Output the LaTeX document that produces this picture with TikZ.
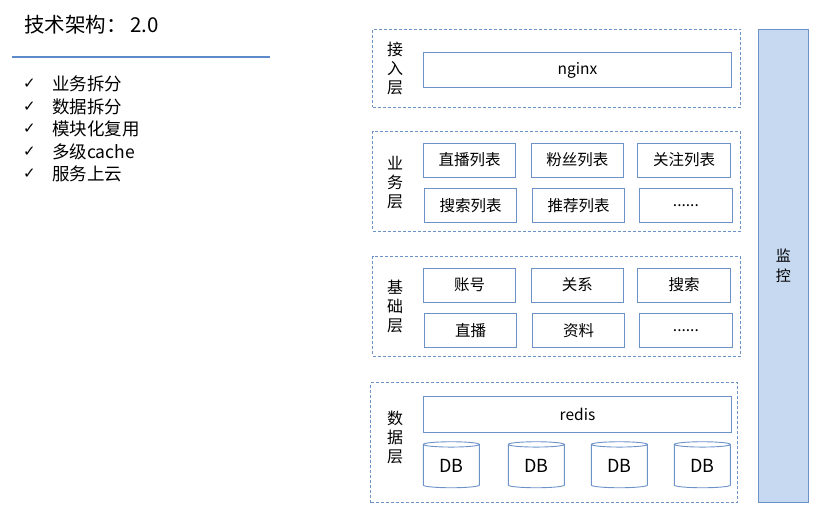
\documentclass[tikz,border=0pt]{standalone}
\usepackage{fontspec}
\setmainfont{Noto Sans CJK SC}
\newfontfamily\symfont{DejaVu Sans}
\usepackage{tikz}
\usetikzlibrary{positioning,shapes.geometric}

\definecolor{edgeblue}{RGB}{108,146,200}
\definecolor{lineblue}{RGB}{91,139,201}
\definecolor{monfill}{RGB}{198,217,240}

\tikzset{
    layer/.style={draw=edgeblue, dash pattern=on 3pt off 2pt, line width=0.9pt, minimum width=368, inner sep=0pt},
    comp/.style={draw=edgeblue, line width=0.9pt, minimum width=92.4, minimum height=34, inner sep=0pt, font=\fontsize{15.5}{18}\selectfont},
    wide/.style={comp, minimum width=308.4},
    dbcyl/.style={cylinder, shape border rotate=90, aspect=0.22, draw=edgeblue, line width=0.9pt, minimum width=56, minimum height=46, inner sep=0pt, font=\fontsize{18}{20}\selectfont},
    vlabel/.style={align=center, font=\fontsize{16}{19}\selectfont, inner sep=0pt},
    item/.style={anchor=west, font=\fontsize{17.5}{20}\selectfont, inner sep=0pt},
    tick/.style={anchor=west, font=\symfont\fontsize{15}{16}\selectfont, inner sep=0pt}
}

\begin{document}
\begin{tikzpicture}[x=1pt, y=-1pt]
    \useasboundingbox (0,0) rectangle (821,512);

    % title and summary
    \node[anchor=west, inner sep=0pt, font=\fontsize{20.5}{24}\selectfont] (title) at (24,25) {技术架构：\,2.0};
    \coordinate (rulel) at (12,57);
    \coordinate (ruler) at (270,57);
    \draw[lineblue, line width=2.8pt] (rulel) -- (ruler);

    \node[tick] (t1) at (23,84) {✓};
    \node[tick] (t2) at (23,106.5) {✓};
    \node[tick] (t3) at (23,129) {✓};
    \node[tick] (t4) at (23,151.5) {✓};
    \node[tick] (t5) at (23,174) {✓};
    \node[item] (i1) at (52,84) {业务拆分};
    \node[item] (i2) at (52,106.5) {数据拆分};
    \node[item] (i3) at (52,129) {模块化复用};
    \node[item] (i4) at (52,151.5) {多级cache};
    \node[item] (i5) at (52,174) {服务上云};

    % access layer
    \node[layer, minimum height=78] (access) at (556.7,68.3) {};
    \node[vlabel] (accesslbl) at (395,68.5) {接\\入\\层};
    \node[wide, minimum height=35.4] (nginx) at (577.5,70) {nginx};

    % business layer
    \node[layer, minimum height=99.3] (biz) at (556.7,181.4) {};
    \node[vlabel] (bizlbl) at (395,182.5) {业\\务\\层};
    \node[comp] (live) at (469.5,160) {直播列表};
    \node[comp] (fans) at (577.4,160) {粉丝列表};
    \node[comp] (follow) at (684,160) {关注列表};
    \node[comp] (search) at (470.7,205.3) {搜索列表};
    \node[comp] (recom) at (578.5,205.3) {推荐列表};
    \node[comp] (bizmore) at (685.9,205.3) {......};

    % base layer
    \node[layer, minimum height=99.3] (base) at (556.7,306.4) {};
    \node[vlabel] (baselbl) at (395,306) {基\\础\\层};
    \node[comp] (account) at (469.5,285) {账号};
    \node[comp] (relation) at (577.4,285) {关系};
    \node[comp] (searchsvc) at (684,285) {搜索};
    \node[comp] (livesvc) at (470.7,330.3) {直播};
    \node[comp] (profile) at (578.5,330.3) {资料};
    \node[comp] (basemore) at (685.9,330.3) {......};

    % data layer
    \node[layer, minimum width=366.6, minimum height=120] (data) at (554,442.7) {};
    \node[vlabel] (datalbl) at (395,437.5) {数\\据\\层};
    \node[wide, minimum height=36] (redis) at (577.5,414.7) {redis};
    \node[dbcyl] (db1) at (451.3,466.3) {DB};
    \node[dbcyl] (db2) at (536.3,466.3) {DB};
    \node[dbcyl] (db3) at (619.4,466.3) {DB};
    \node[dbcyl] (db4) at (702.4,466.3) {DB};

    % monitor
    \node[draw=edgeblue, fill=monfill, line width=0.9pt, minimum width=50, minimum height=473.4, inner sep=0pt] (monitor) at (783.3,266) {};
    \node[vlabel, font=\fontsize{15}{20}\selectfont] (monlbl) at (monitor.center) {监\\控};
\end{tikzpicture}
\end{document}
